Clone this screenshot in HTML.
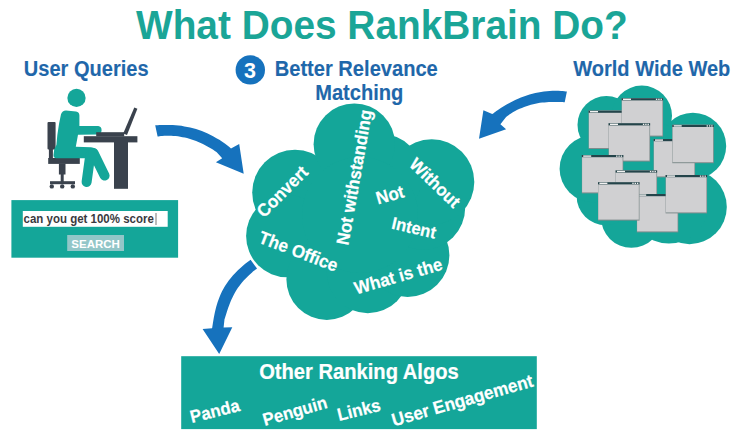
<!DOCTYPE html>
<html><head><meta charset="utf-8"><title>What Does RankBrain Do?</title>
<style>
html,body{margin:0;padding:0;background:#fff;}
body{width:750px;height:435px;overflow:hidden;}
svg{display:block;font-family:"Liberation Sans", sans-serif;font-weight:bold;}
</style></head><body>
<svg width="750" height="435" viewBox="0 0 750 435">
<rect width="750" height="435" fill="#fff"/>
<text transform="translate(136.00,38.90) scale(1.0,1.045)" font-size="38.83" fill="#1aa597" text-anchor="start" >What Does RankBrain Do?</text>
<text transform="translate(23.80,75.50) scale(1.0,1.055)" font-size="20.05" fill="#1f67aa" text-anchor="start" stroke="#1f67aa" stroke-width="0.12">User Queries</text>
<circle cx="250.3" cy="69.9" r="14.7" fill="#1672bd"/>
<text transform="translate(250.00,77.80) scale(1.0,1.04)" font-size="21.5" fill="#fff" text-anchor="middle" >3</text>
<text transform="translate(274.70,75.50) scale(1.0,1.055)" font-size="20.1" fill="#1f67aa" text-anchor="start" stroke="#1f67aa" stroke-width="0.12">Better Relevance</text>
<text transform="translate(315.20,99.50) scale(1.0,1.055)" font-size="20.1" fill="#1f67aa" text-anchor="start" stroke="#1f67aa" stroke-width="0.12">Matching</text>
<text transform="translate(573.20,75.50) scale(1.0,1.055)" font-size="20.05" fill="#1f67aa" text-anchor="start" stroke="#1f67aa" stroke-width="0.12">World Wide Web</text>
<rect x="47.5" y="122" width="8.1" height="27.5" rx="1" fill="#3a424d"/>
<rect x="48.9" y="148" width="4" height="11" fill="#3a424d"/>
<rect x="48.2" y="158" width="31.6" height="5.9" fill="#3a424d"/>
<rect x="58.9" y="163.5" width="6.6" height="11" fill="#3a424d"/>
<rect x="60.7" y="174" width="3" height="8.5" fill="#3a424d"/>
<rect x="50" y="181.2" width="25" height="3" fill="#3a424d"/>
<circle cx="51.8" cy="186.4" r="2.2" fill="#3a424d"/>
<circle cx="62.2" cy="186.4" r="2.2" fill="#3a424d"/>
<circle cx="72.8" cy="186.4" r="2.2" fill="#3a424d"/>
<circle cx="76.5" cy="97.9" r="9.15" fill="#14a699"/>
<path d="M61,114.2 Q62.2,110.6 66,110.4 L76,111.4 Q79.4,112 79.4,115.5 L79.4,126.1 L98.2,126.1 Q101.6,126.6 101.6,130.3 Q101.4,134.4 97.5,134.6 L78,134.8 L75.8,146.8 L91,147.2 Q96,147.6 98,152 L86,158.2 L56,158.2 Q53.3,157.8 53.5,155 L54.2,149.5 L56.4,145 L57.3,135.3 L59.1,123.4 Z" fill="#14a699"/>
<line x1="90.3" y1="155" x2="86.6" y2="182" stroke="#14a699" stroke-width="10" stroke-linecap="round"/>
<line x1="93.5" y1="153" x2="104.6" y2="175.6" stroke="#14a699" stroke-width="10" stroke-linecap="round"/>
<rect x="83.8" y="136.2" width="53.6" height="6.2" fill="#3a424d"/>
<rect x="114" y="142" width="14" height="46.8" fill="#3a424d"/>
<rect x="96.2" y="132.2" width="28" height="4.2" fill="#3a424d"/>
<path d="M123.2,133.6 L134.3,107.4 L137.4,108.7 L127,135 Z" fill="#3a424d"/>
<rect x="11.4" y="200.1" width="166.7" height="57.6" fill="#14a699"/>
<rect x="22.8" y="211" width="144.9" height="15.8" fill="#fff"/>
<text transform="translate(23.54,223.00) scale(1.0,1.05)" font-size="11.5" fill="#3a3a40" text-anchor="start" >can you get 100% score</text>
<rect x="155.6" y="213" width="0.8" height="12" fill="#555"/>
<rect x="67.2" y="235" width="56.8" height="16" fill="#92c6c8"/>
<text transform="translate(95.60,247.60) scale(1.0,1.02)" font-size="11.5" fill="#fff" text-anchor="middle" >SEARCH</text>
<path d="M155.20,125.18 C156.17,125.14 159.09,124.98 161.03,124.93 C162.97,124.88 164.92,124.86 166.86,124.89 C168.81,124.92 170.75,124.98 172.69,125.10 C174.64,125.22 176.58,125.37 178.52,125.59 C180.47,125.81 182.41,126.07 184.35,126.40 C186.30,126.72 188.24,127.11 190.18,127.56 C192.13,128.01 194.07,128.52 196.02,129.10 C197.96,129.69 199.90,130.34 201.85,131.07 C203.79,131.80 205.73,132.60 207.68,133.49 C209.62,134.38 211.56,135.34 213.51,136.40 C215.45,137.46 217.39,138.60 219.34,139.83 C221.28,141.07 223.23,142.40 225.17,143.83 C227.11,145.26 230.03,147.65 231.00,148.42 L239.2,144 L243.7,173.7 L215.9,162.3 L222.2,158.2 L216.50,152.12 C215.74,151.62 213.48,150.06 211.97,149.12 C210.46,148.17 208.95,147.28 207.44,146.43 C205.93,145.59 204.42,144.80 202.91,144.06 C201.40,143.32 199.89,142.63 198.38,141.99 C196.87,141.36 195.36,140.77 193.85,140.23 C192.34,139.69 190.83,139.20 189.32,138.76 C187.81,138.32 186.29,137.93 184.78,137.59 C183.27,137.24 181.76,136.95 180.25,136.70 C178.74,136.45 177.23,136.25 175.72,136.10 C174.21,135.94 172.70,135.83 171.19,135.77 C169.68,135.71 168.17,135.69 166.66,135.71 C165.15,135.74 163.64,135.81 162.13,135.93 C160.62,136.04 158.36,136.33 157.60,136.41 Z" fill="#1672bd"/>
<path d="M566.90,91.44 C565.94,91.35 563.07,91.02 561.15,90.90 C559.24,90.77 557.32,90.71 555.41,90.71 C553.49,90.71 551.58,90.77 549.66,90.90 C547.75,91.02 545.83,91.21 543.92,91.45 C542.00,91.70 540.08,92.01 538.17,92.39 C536.25,92.76 534.34,93.20 532.42,93.70 C530.51,94.21 528.59,94.77 526.68,95.41 C524.76,96.04 522.85,96.74 520.93,97.50 C519.02,98.27 517.10,99.10 515.18,99.99 C513.27,100.89 511.35,101.86 509.44,102.89 C507.52,103.92 505.61,105.02 503.69,106.19 C501.78,107.36 499.86,108.60 497.95,109.91 C496.03,111.22 493.16,113.35 492.20,114.04 L483.4,110.3 L479,138.8 L506.1,129.3 L500.4,124.2 L506.10,116.99 C506.85,116.47 509.11,114.81 510.61,113.83 C512.11,112.85 513.61,111.96 515.12,111.12 C516.62,110.29 518.12,109.53 519.62,108.83 C521.13,108.13 522.63,107.51 524.13,106.93 C525.63,106.36 527.14,105.85 528.64,105.39 C530.14,104.93 531.64,104.53 533.15,104.17 C534.65,103.81 536.15,103.51 537.65,103.25 C539.16,102.99 540.66,102.77 542.16,102.59 C543.66,102.41 545.17,102.28 546.67,102.17 C548.17,102.06 549.67,102.00 551.18,101.95 C552.68,101.91 554.18,101.90 555.68,101.90 C557.19,101.91 558.69,101.95 560.19,102.00 C561.69,102.05 563.95,102.17 564.70,102.20 Z" fill="#1672bd"/>
<g fill="#14a699"><circle cx="295.0" cy="192.6" r="42.8"/><circle cx="287.3" cy="236.1" r="41.2"/><circle cx="326.8" cy="279.5" r="40.4"/><circle cx="367.8" cy="272.0" r="41.2"/><circle cx="407.6" cy="255.2" r="41.8"/><circle cx="423.2" cy="207.8" r="42"/><circle cx="431.7" cy="181.9" r="42.6"/><circle cx="380.6" cy="175.9" r="42"/><circle cx="354.3" cy="144.2" r="40.7"/><circle cx="360" cy="215" r="58"/></g>
<path d="M250.59,259.70 C249.45,260.58 245.89,263.22 243.77,264.98 C241.66,266.74 239.71,268.49 237.89,270.25 C236.06,272.01 234.40,273.77 232.85,275.53 C231.29,277.29 229.88,279.05 228.58,280.81 C227.27,282.57 226.09,284.33 225.00,286.08 C223.91,287.84 222.94,289.60 222.05,291.36 C221.15,293.12 220.36,294.88 219.63,296.64 C218.90,298.40 218.26,300.16 217.67,301.92 C217.08,303.67 216.57,305.43 216.10,307.19 C215.63,308.95 215.22,310.71 214.84,312.47 C214.45,314.23 214.12,315.99 213.80,317.75 C213.48,319.51 213.20,321.26 212.92,323.02 C212.64,324.78 212.25,327.42 212.12,328.30 L202.6,329 L219.2,353.9 L232.3,327.3 L223.6,327.6 L224.50,319.30 C224.71,318.65 225.32,316.70 225.74,315.40 C226.15,314.10 226.56,312.80 226.98,311.50 C227.41,310.20 227.84,308.90 228.30,307.60 C228.76,306.30 229.22,305.00 229.73,303.70 C230.24,302.40 230.77,301.10 231.34,299.80 C231.91,298.50 232.52,297.20 233.18,295.90 C233.84,294.60 234.53,293.30 235.30,292.00 C236.06,290.70 236.87,289.40 237.75,288.10 C238.64,286.80 239.58,285.50 240.60,284.20 C241.63,282.90 242.72,281.60 243.90,280.30 C245.08,279.00 246.34,277.70 247.69,276.40 C249.05,275.10 250.49,273.80 252.04,272.50 C253.59,271.20 256.17,269.25 257.00,268.60 Z" fill="#1672bd"/>
<text transform="translate(282.30,191.50) rotate(-45) scale(1.0,1.05)" font-size="17" fill="#fff" text-anchor="middle" y="5.86" stroke="#fff" stroke-width="0.2">Convert</text>
<text transform="translate(354.20,177.30) rotate(-80) scale(1.0,1.05)" font-size="16.9" fill="#fff" text-anchor="middle" y="5.83" stroke="#fff" stroke-width="0.2">Not withstanding</text>
<text transform="translate(390.00,194.80) rotate(-16) scale(1.0,1.05)" font-size="17" fill="#fff" text-anchor="middle" y="5.86" stroke="#fff" stroke-width="0.2">Not</text>
<text transform="translate(435.00,182.80) rotate(44) scale(1.0,1.05)" font-size="16.8" fill="#fff" text-anchor="middle" y="5.80" stroke="#fff" stroke-width="0.2">Without</text>
<text transform="translate(414.00,227.80) rotate(13) scale(1.0,1.05)" font-size="16.5" fill="#fff" text-anchor="middle" y="5.69" stroke="#fff" stroke-width="0.2">Intent</text>
<text transform="translate(298.60,251.30) rotate(21) scale(1.0,1.05)" font-size="17" fill="#fff" text-anchor="middle" y="5.86" stroke="#fff" stroke-width="0.2">The Office</text>
<text transform="translate(398.20,276.00) rotate(-16) scale(1.0,1.05)" font-size="17" fill="#fff" text-anchor="middle" y="5.86" stroke="#fff" stroke-width="0.2">What is the</text>
<g fill="#14a699"><circle cx="606.4" cy="124.9" r="28.9"/><circle cx="641.8" cy="115.8" r="30.2"/><circle cx="692.9" cy="146" r="33.3"/><circle cx="689.5" cy="206.9" r="37.3"/><circle cx="668.9" cy="203.5" r="40"/><circle cx="631.4" cy="217.4" r="30.4"/><circle cx="605.8" cy="196" r="29.2"/><circle cx="593.2" cy="168.7" r="33.6"/><circle cx="645" cy="170" r="50"/></g>
<g transform="translate(588.6,110.6)"><rect x="0" y="0" width="41.5" height="38.4" fill="#7f8c8c"/><rect x="0.3" y="0" width="40.5" height="37.4" fill="#d0d0d2"/><rect x="0" y="0" width="41.5" height="2.2" fill="#24444a"/><rect x="1.4" y="0.4" width="8" height="1.4" fill="#f2f2f2"/><rect x="34.3" y="0.5" width="1.4" height="1.3" fill="#f2f2f2"/><rect x="36.6" y="0.5" width="1.4" height="1.3" fill="#f2f2f2"/><rect x="38.9" y="0.5" width="1.4" height="1.3" fill="#f2f2f2"/></g>
<g transform="translate(621.6,98.2)"><rect x="0" y="0" width="41.5" height="38.4" fill="#7f8c8c"/><rect x="0.3" y="0" width="40.5" height="37.4" fill="#d0d0d2"/><rect x="0" y="0" width="41.5" height="2.2" fill="#24444a"/><rect x="1.4" y="0.4" width="8" height="1.4" fill="#f2f2f2"/><rect x="34.3" y="0.5" width="1.4" height="1.3" fill="#f2f2f2"/><rect x="36.6" y="0.5" width="1.4" height="1.3" fill="#f2f2f2"/><rect x="38.9" y="0.5" width="1.4" height="1.3" fill="#f2f2f2"/></g>
<g transform="translate(608.6,123.2)"><rect x="0" y="0" width="41.5" height="38.4" fill="#7f8c8c"/><rect x="0.3" y="0" width="40.5" height="37.4" fill="#d0d0d2"/><rect x="0" y="0" width="41.5" height="2.2" fill="#24444a"/><rect x="1.4" y="0.4" width="8" height="1.4" fill="#f2f2f2"/><rect x="34.3" y="0.5" width="1.4" height="1.3" fill="#f2f2f2"/><rect x="36.6" y="0.5" width="1.4" height="1.3" fill="#f2f2f2"/><rect x="38.9" y="0.5" width="1.4" height="1.3" fill="#f2f2f2"/></g>
<g transform="translate(653.6,139)"><rect x="0" y="0" width="41.5" height="38.4" fill="#7f8c8c"/><rect x="0.3" y="0" width="40.5" height="37.4" fill="#d0d0d2"/><rect x="0" y="0" width="41.5" height="2.2" fill="#24444a"/><rect x="1.4" y="0.4" width="8" height="1.4" fill="#f2f2f2"/><rect x="34.3" y="0.5" width="1.4" height="1.3" fill="#f2f2f2"/><rect x="36.6" y="0.5" width="1.4" height="1.3" fill="#f2f2f2"/><rect x="38.9" y="0.5" width="1.4" height="1.3" fill="#f2f2f2"/></g>
<g transform="translate(672.3,124.8)"><rect x="0" y="0" width="41.5" height="38.4" fill="#7f8c8c"/><rect x="0.3" y="0" width="40.5" height="37.4" fill="#d0d0d2"/><rect x="0" y="0" width="41.5" height="2.2" fill="#24444a"/><rect x="1.4" y="0.4" width="8" height="1.4" fill="#f2f2f2"/><rect x="34.3" y="0.5" width="1.4" height="1.3" fill="#f2f2f2"/><rect x="36.6" y="0.5" width="1.4" height="1.3" fill="#f2f2f2"/><rect x="38.9" y="0.5" width="1.4" height="1.3" fill="#f2f2f2"/></g>
<g transform="translate(581.8,155)"><rect x="0" y="0" width="41.5" height="38.4" fill="#7f8c8c"/><rect x="0.3" y="0" width="40.5" height="37.4" fill="#d0d0d2"/><rect x="0" y="0" width="41.5" height="2.2" fill="#24444a"/><rect x="1.4" y="0.4" width="8" height="1.4" fill="#f2f2f2"/><rect x="34.3" y="0.5" width="1.4" height="1.3" fill="#f2f2f2"/><rect x="36.6" y="0.5" width="1.4" height="1.3" fill="#f2f2f2"/><rect x="38.9" y="0.5" width="1.4" height="1.3" fill="#f2f2f2"/></g>
<g transform="translate(615.6,170.4)"><rect x="0" y="0" width="41.5" height="38.4" fill="#7f8c8c"/><rect x="0.3" y="0" width="40.5" height="37.4" fill="#d0d0d2"/><rect x="0" y="0" width="41.5" height="2.2" fill="#24444a"/><rect x="1.4" y="0.4" width="8" height="1.4" fill="#f2f2f2"/><rect x="34.3" y="0.5" width="1.4" height="1.3" fill="#f2f2f2"/><rect x="36.6" y="0.5" width="1.4" height="1.3" fill="#f2f2f2"/><rect x="38.9" y="0.5" width="1.4" height="1.3" fill="#f2f2f2"/></g>
<g transform="translate(636.8,194)"><rect x="0" y="0" width="41.5" height="38.4" fill="#7f8c8c"/><rect x="0.3" y="0" width="40.5" height="37.4" fill="#d0d0d2"/><rect x="0" y="0" width="41.5" height="2.2" fill="#24444a"/><rect x="1.4" y="0.4" width="8" height="1.4" fill="#f2f2f2"/><rect x="34.3" y="0.5" width="1.4" height="1.3" fill="#f2f2f2"/><rect x="36.6" y="0.5" width="1.4" height="1.3" fill="#f2f2f2"/><rect x="38.9" y="0.5" width="1.4" height="1.3" fill="#f2f2f2"/></g>
<g transform="translate(665.6,175)"><rect x="0" y="0" width="41.5" height="38.4" fill="#7f8c8c"/><rect x="0.3" y="0" width="40.5" height="37.4" fill="#d0d0d2"/><rect x="0" y="0" width="41.5" height="2.2" fill="#24444a"/><rect x="1.4" y="0.4" width="8" height="1.4" fill="#f2f2f2"/><rect x="34.3" y="0.5" width="1.4" height="1.3" fill="#f2f2f2"/><rect x="36.6" y="0.5" width="1.4" height="1.3" fill="#f2f2f2"/><rect x="38.9" y="0.5" width="1.4" height="1.3" fill="#f2f2f2"/></g>
<g transform="translate(598,182.2)"><rect x="0" y="0" width="41.5" height="38.4" fill="#7f8c8c"/><rect x="0.3" y="0" width="40.5" height="37.4" fill="#d0d0d2"/><rect x="0" y="0" width="41.5" height="2.2" fill="#24444a"/><rect x="1.4" y="0.4" width="8" height="1.4" fill="#f2f2f2"/><rect x="34.3" y="0.5" width="1.4" height="1.3" fill="#f2f2f2"/><rect x="36.6" y="0.5" width="1.4" height="1.3" fill="#f2f2f2"/><rect x="38.9" y="0.5" width="1.4" height="1.3" fill="#f2f2f2"/></g>
<rect x="181.2" y="356.2" width="355.6" height="72.9" fill="#14a699"/>
<text transform="translate(259.20,379.10) scale(1.0,1.06)" font-size="20.15" fill="#fff" text-anchor="start" stroke="#fff" stroke-width="0.2">Other Ranking Algos</text>
<text transform="translate(214.80,411.00) rotate(-14) scale(1.0,1.05)" font-size="16.8" fill="#fff" text-anchor="middle" y="5.80" stroke="#fff" stroke-width="0.2">Panda</text>
<text transform="translate(294.80,411.00) rotate(-16) scale(1.0,1.05)" font-size="16.8" fill="#fff" text-anchor="middle" y="5.80" stroke="#fff" stroke-width="0.2">Penguin</text>
<text transform="translate(358.80,409.80) rotate(-14) scale(1.0,1.05)" font-size="16.8" fill="#fff" text-anchor="middle" y="5.80" stroke="#fff" stroke-width="0.2">Links</text>
<text transform="translate(462.30,400.30) rotate(-16) scale(1.0,1.05)" font-size="17.2" fill="#fff" text-anchor="middle" y="5.93" stroke="#fff" stroke-width="0.2">User Engagement</text>
</svg>
</body></html>
